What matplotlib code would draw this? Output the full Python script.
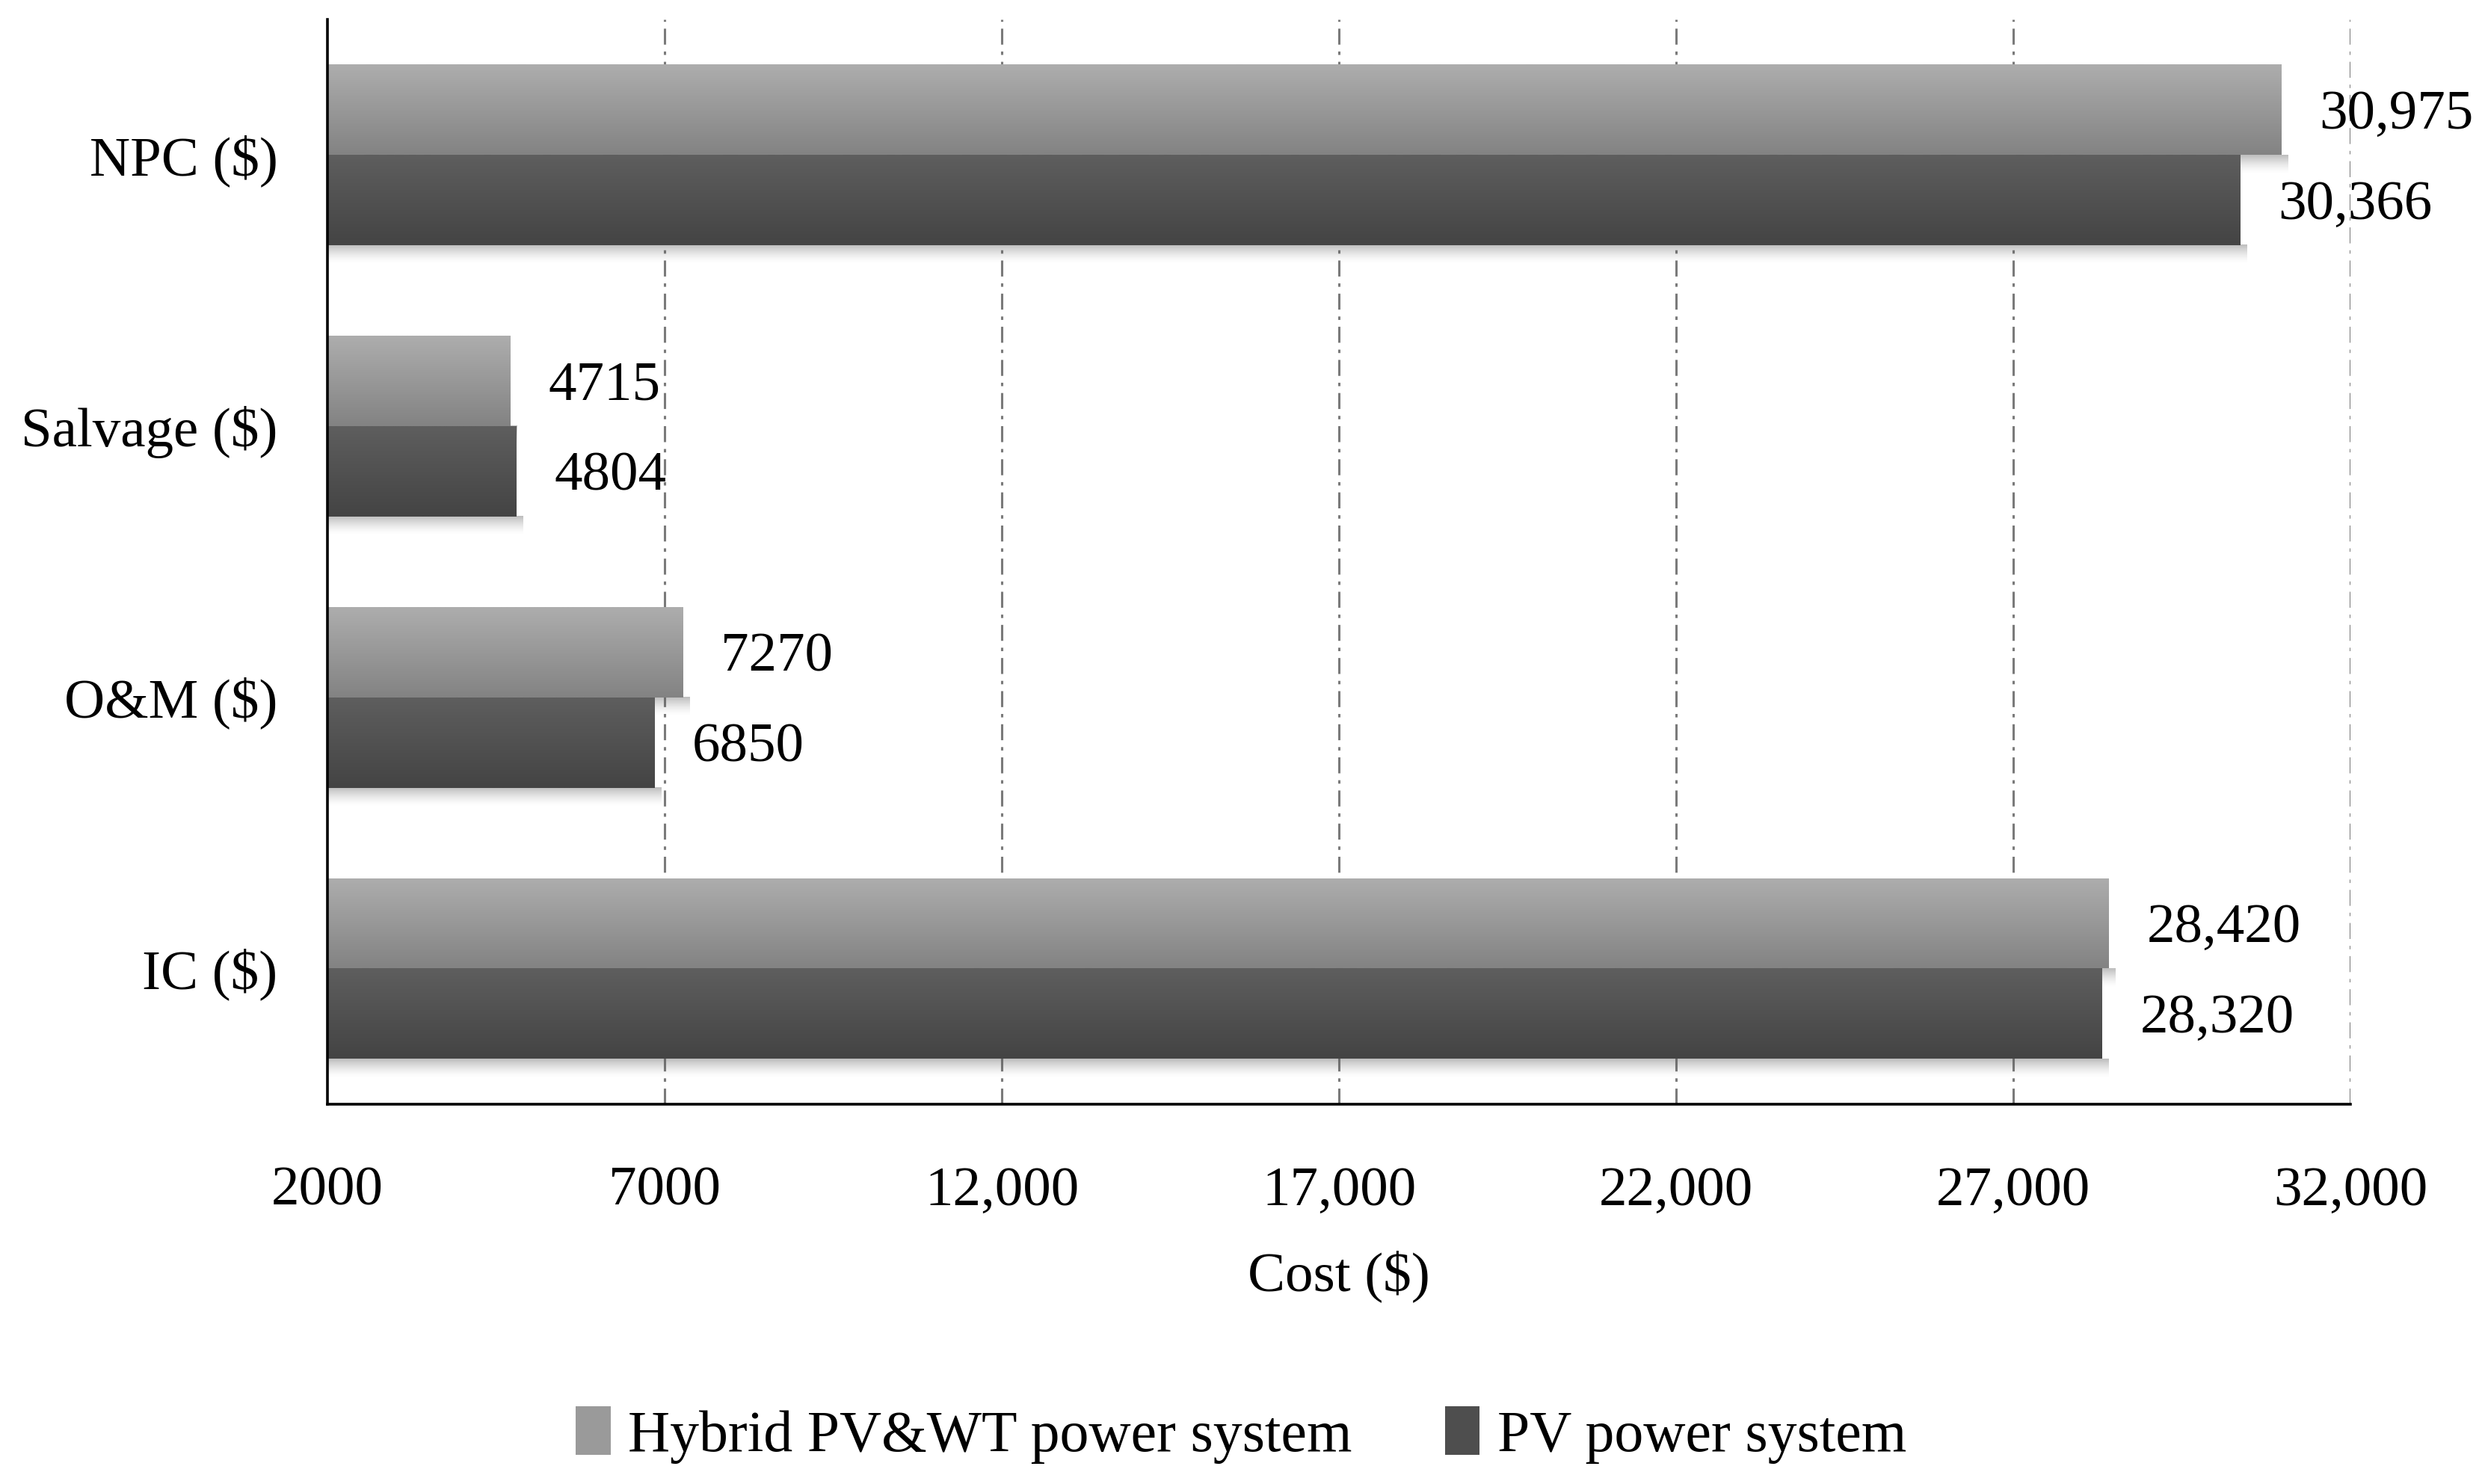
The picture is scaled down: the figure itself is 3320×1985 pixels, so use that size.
import numpy as np
import matplotlib
matplotlib.use("Agg")
import matplotlib.pyplot as plt
from matplotlib.colors import to_rgb
from matplotlib.patches import Patch

categories = ["IC ($)", "O&M ($)", "Salvage ($)", "NPC ($)"]
hybrid_vals = [28420, 7270, 4715, 30975]
pv_vals = [28320, 6850, 4804, 30366]
series_names = ["Hybrid PV&WT power system", "PV power system"]
xticks = [2000, 7000, 12000, 17000, 22000, 27000, 32000]

plt.rcParams['font.family'] = ['Liberation Serif', 'DejaVu Serif']
FS = 27
XMIN, XMAX = 2000, 32000

def fmt(v):
    return f"{v:,}" if v >= 10000 else str(v)

fig = plt.figure(figsize=(16.6, 9.925), dpi=200)
ax = fig.add_axes([0.132, 0.256, 0.815, 0.731])

y = np.arange(len(categories))
h = 1/3
hyb_top, hyb_bot = "#adadad", "#838383"
pv_top, pv_bot = "#5e5e5e", "#444444"

bars_h = ax.barh(y + h/2, hybrid_vals, height=h, color="#999999", zorder=3, linewidth=0)
bars_p = ax.barh(y - h/2, pv_vals, height=h, color="#505050", zorder=4, linewidth=0)

def grad_fill(bars, ctop, cbot, z):
    t = np.array(to_rgb(ctop)); b = np.array(to_rgb(cbot))
    n = 64
    fr = np.linspace(0, 1, n)[:, None]
    img = (b * (1 - fr) + t * fr)[:, None, :]  # row 0 = bottom
    for bar in bars:
        x0, y0 = bar.get_x(), bar.get_y()
        w, hh = bar.get_width(), bar.get_height()
        xs = max(x0, XMIN)
        im = ax.imshow(img, extent=[xs, x0 + w, y0, y0 + hh], origin='lower',
                       aspect='auto', zorder=z + 0.1, interpolation='bilinear')
        im.set_clip_path(bar)

def shadow(bars, z):
    n = 32
    fr = np.linspace(0, 1, n)[:, None]
    for bar in bars:
        x0, y0 = bar.get_x(), bar.get_y()
        w = bar.get_width()
        xs = max(x0, XMIN)
        rgba = np.zeros((n, 1, 4))
        rgba[..., 0:3] = 0.35
        rgba[:, 0, 3] = 0.4 * fr[:, 0] ** 1.5
        ax.imshow(rgba, extent=[xs, x0 + w + 100, y0 - 0.07, y0], origin='lower',
                  aspect='auto', zorder=z - 0.5, interpolation='bilinear')

shadow(bars_h, 3)
shadow(bars_p, 4)
grad_fill(bars_h, hyb_top, hyb_bot, 3)
grad_fill(bars_p, pv_top, pv_bot, 4)

for bar, v in zip(bars_h, hybrid_vals):
    ax.text(v + 560, bar.get_y() + bar.get_height()/2 - 0.02, fmt(v), va='center', ha='left',
            fontsize=FS, zorder=6)
for bar, v in zip(bars_p, pv_vals):
    ax.text(v + 560, bar.get_y() + bar.get_height()/2 - 0.02, fmt(v), va='center', ha='left',
            fontsize=FS, zorder=6)

ax.set_xlim(XMIN, XMAX)
ax.set_ylim(-0.5, 3.5)
ax.set_xticks(xticks)
ax.set_xticklabels([fmt(v) for v in xticks], fontsize=FS)
ax.set_yticks(y)
ax.set_yticklabels(categories, fontsize=FS)
ax.tick_params(axis='x', length=0, pad=30)
ax.tick_params(axis='y', length=0, pad=24)
ax.set_xlabel("Cost ($)", fontsize=FS, labelpad=16)

for xv in xticks[1:]:
    ax.axvline(xv, color="#7a7a7a", linewidth=1.1, linestyle=(0, (7, 3, 1.5, 3)), zorder=1)

for s in ['top', 'right']:
    ax.spines[s].set_visible(False)
for s in ['left', 'bottom']:
    ax.spines[s].set_linewidth(1.3)
    ax.spines[s].set_color('black')
    ax.spines[s].set_zorder(7)

handles = [Patch(facecolor="#9a9a9a", edgecolor='none'), Patch(facecolor="#4e4e4e", edgecolor='none')]
fig.legend(handles, series_names, loc='center', bbox_to_anchor=(0.5, 0.033), ncol=2,
           frameon=False, fontsize=28, handlelength=0.6, handleheight=0.9,
           handletextpad=0.3, columnspacing=1.6)

fig.savefig("out.png", dpi=200)
